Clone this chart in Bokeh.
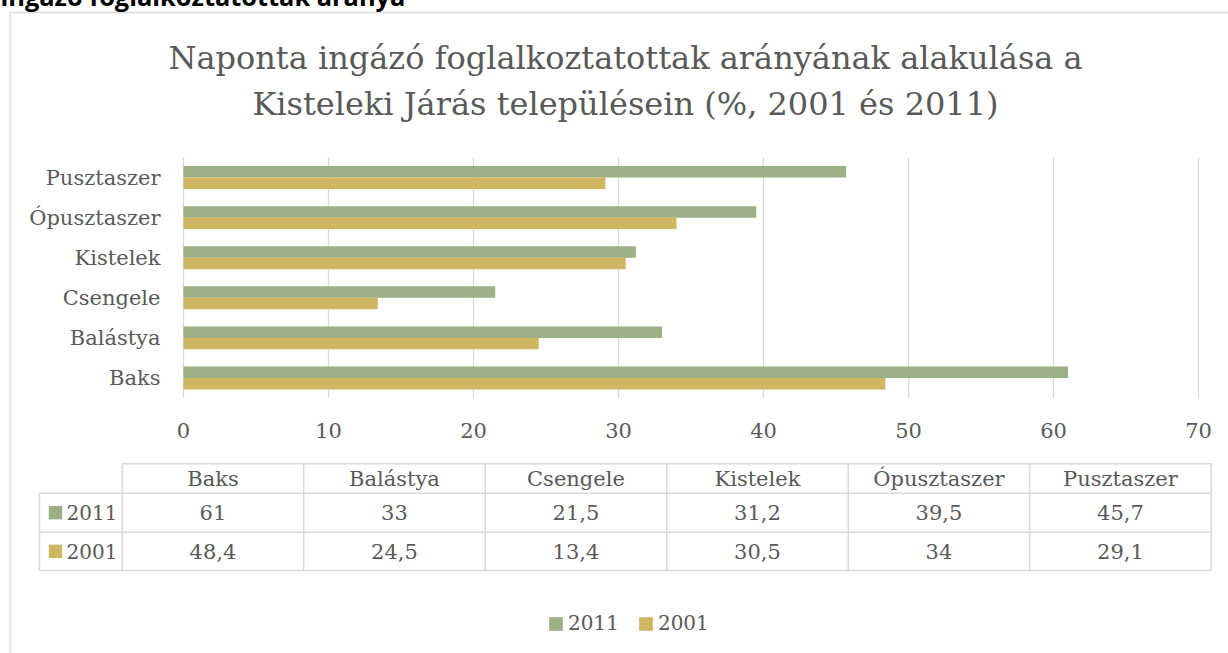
from bokeh.plotting import figure
from bokeh.models import (Range1d, ColumnDataSource, Legend, LegendItem)
from bokeh.transform import dodge
from bokeh.core.properties import value
from bokeh.embed import file_html
from bokeh.resources import INLINE

# ---------------- data ----------------
categories = ["Baks", "Balástya", "Csengele", "Kistelek", "Ópusztaszer", "Pusztaszer"]
series_names = ["2011", "2001"]
values_2011 = [61, 33, 21.5, 31.2, 39.5, 45.7]
values_2001 = [48.4, 24.5, 13.4, 30.5, 34, 29.1]
x_ticks = [0, 10, 20, 30, 40, 50, 60, 70]
title_lines = ["Naponta ingázó foglalkoztatottak arányának alakulása a",
               "Kisteleki Járás településein (%, 2001 és 2011)"]
heading = "ingázó foglalkoztatottak aránya"

# ---------------- style / layout (page pixel coordinates) ----------------
GREEN = "#9BB084"
GOLD = "#CEB663"
TXT = "#595959"
GRID = "#D9D9D9"
FONT = value("DejaVu Serif")
FS = "21px"

PAGE_W, PAGE_H = 1228, 653
OFF = 8                                   # canvas is shifted up/left by the page margin
W, H = PAGE_W + OFF, PAGE_H + OFF

PL, PR, PT, PB = 183.0, 1198.0, 157.0, 397.5   # plot area
XMAX = 70.0
TL, TR = 121.7, 1210.7                          # data table columns
RL = 39.0                                       # row-label column left
ROWS = [463.3, 492.7, 531.7, 570.0]

ncat = len(categories)
px_per_val = (PR - PL) / XMAX
px_per_cat = (PB - PT) / ncat
px_per_col = (TR - TL) / ncat

p = figure(width=W, height=H, output_backend="svg", toolbar_location=None,
           x_range=Range1d(-OFF, PAGE_W), y_range=Range1d(PAGE_H, -OFF),
           x_axis_type=None, y_axis_type=None,
           min_border=0, min_border_left=0, min_border_right=0,
           min_border_top=0, min_border_bottom=0,
           outline_line_color=None, background_fill_color="white",
           border_fill_color="white", title=None)
p.styles = {"margin-left": "-8px", "margin-top": "-8px"}
p.xgrid.visible = False
p.ygrid.visible = False

# value scale (bars), category scale, table-column scale
p.extra_x_ranges = {
    "val": Range1d((-OFF - PL) / px_per_val, (PAGE_W - PL) / px_per_val),
    "tcol": Range1d((-OFF - TL) / px_per_col, (PAGE_W - TL) / px_per_col),
}
p.extra_y_ranges = {
    "cat": Range1d((PB - PAGE_H) / px_per_cat, (PB + OFF) / px_per_cat),
}

cat_pos = [i + 0.5 for i in range(ncat)]
src = ColumnDataSource(dict(cat=categories, y=cat_pos, v2011=values_2011, v2001=values_2001))

# outer chart border
p.segment(x0=[9.7, 9.7], y0=[12, 12], x1=[9.7, PAGE_W + 5], y1=[PAGE_H + 5, 12],
          line_color=GRID, line_width=1.3)

# grid lines
p.segment(x0=x_ticks, x1=x_ticks, y0=PT, y1=PB, x_range_name="val",
          line_color=GRID, line_width=1.3)

# bars
r1 = p.hbar(y=dodge("y", 0.143), left=0, right="v2011", height=0.287, source=src,
            x_range_name="val", y_range_name="cat", fill_color=GREEN, line_color=None)
r2 = p.hbar(y=dodge("y", -0.143), left=0, right="v2001", height=0.287, source=src,
            x_range_name="val", y_range_name="cat", fill_color=GOLD, line_color=None)

# category axis labels
p.text(x=PL - 23, y="y", text="cat", source=src, y_range_name="cat",
       text_align="right", text_baseline="alphabetic",
       text_font=FONT, text_font_size=FS, text_color=TXT)

# value axis tick labels
p.text(x=x_ticks, y=430, text=[str(t) for t in x_ticks], x_range_name="val",
       text_align="center", text_baseline="alphabetic",
       text_font=FONT, text_font_size=FS, text_color=TXT)

# cut-off document heading
p.text(x=[0], y=[-4.4], text=[heading], text_font=value("Open Sans"), text_font_style="bold",
       text_font_size="25.4px", text_color="#000000", text_baseline="alphabetic")

# title
p.text(x=[625, 625], y=[57, 103], text=title_lines, text_align="center",
       text_baseline="alphabetic", text_font=FONT, text_font_size="32px", text_color=TXT)

# ---------------- data table ----------------
def fmt(v):
    return f"{v:g}".replace(".", ",")

col_idx = list(range(ncat + 1))
p.segment(x0=col_idx, x1=col_idx, y0=ROWS[0], y1=ROWS[-1], x_range_name="tcol",
          line_color=GRID, line_width=1.5)
p.segment(x0=[TL, RL, RL, RL], x1=[TR, TR, TR, TR], y0=ROWS, y1=ROWS,
          line_color=GRID, line_width=1.5)
p.segment(x0=[RL], x1=[RL], y0=[ROWS[1]], y1=[ROWS[-1]], line_color=GRID, line_width=1.5)

col_centers = [i + 0.5 for i in range(ncat)]
row_c = [(ROWS[k] + ROWS[k + 1]) / 2 for k in range(3)]
tab = ColumnDataSource(dict(
    x=col_centers * 3,
    y=[row_c[0]] * ncat + [row_c[1]] * ncat + [row_c[2]] * ncat,
    t=categories + [fmt(v) for v in values_2011] + [fmt(v) for v in values_2001]))
p.text(x="x", y="y", text="t", source=tab, x_range_name="tcol",
       text_align="center", text_baseline="alphabetic",
       text_font=FONT, text_font_size=FS, text_color=TXT)

# row labels with colour keys
p.rect(x=[55, 55], y=row_c[1:], width=13.4, height=13.4,
       fill_color=[GREEN, GOLD], line_color=None)
p.text(x=[66, 66], y=row_c[1:], text=series_names,
       text_align="left", text_baseline="alphabetic",
       text_font=FONT, text_font_size="20px", text_color=TXT)

# ---------------- legend ----------------
legend = Legend(items=[LegendItem(label=series_names[0], renderers=[r1]),
                       LegendItem(label=series_names[1], renderers=[r2])],
                orientation="horizontal", location=(555, 18),
                glyph_width=17, glyph_height=17, label_standoff=4, spacing=18,
                padding=0, margin=0, border_line_color=None, background_fill_alpha=0,
                label_text_font="DejaVu Serif", label_text_font_size="20px",
                label_text_color=TXT)
p.add_layout(legend)

open("out.html", "w").write(file_html(p, INLINE))
